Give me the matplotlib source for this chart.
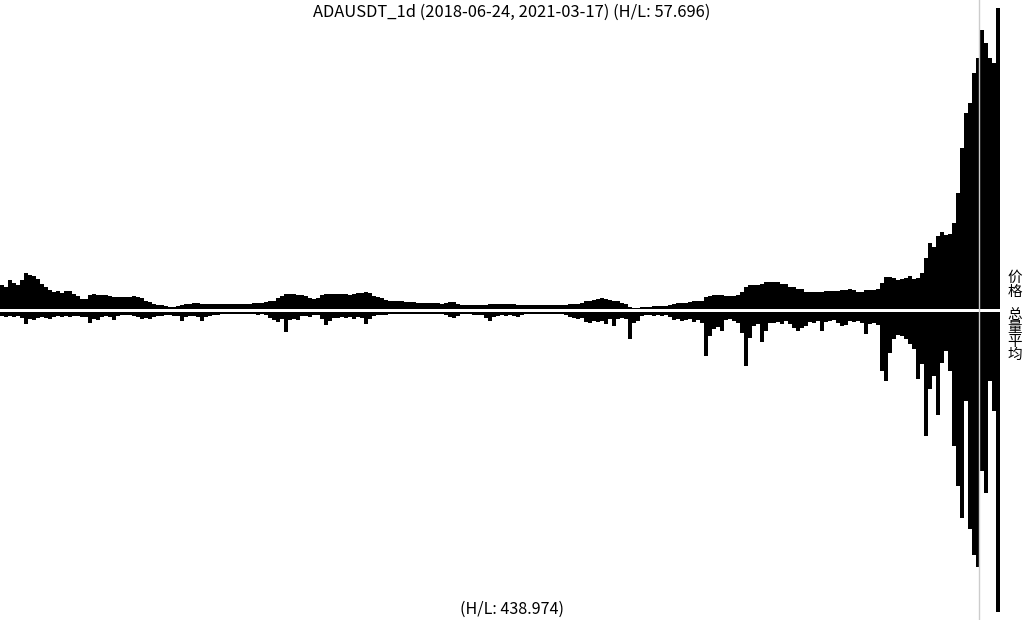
import numpy as np
import pandas as pd
import matplotlib
matplotlib.use("Agg")
import matplotlib.pyplot as plt
import matplotlib.dates as mdates
import matplotlib.transforms as mtransforms

start_date = "2018-06-24"
step_days = 4
marker_date = "2021-02-27"

price = [
    23, 21, 28, 25, 23, 28, 35, 33, 32, 29, 24, 21, 18, 16, 17, 15, 17, 17, 14, 12,
    9, 9, 13, 14, 13, 13.5, 13, 12, 11.5, 11.5, 11, 11, 11.5, 12, 11, 10, 7, 6, 4.5, 3.5,
    3.5, 2.5, 1.5, 1.5, 2, 3.5, 4.5, 4.5, 5, 5.3, 4.5, 4, 4, 4, 4, 4, 4, 4, 4, 4.3,
    4.7, 4.7, 4.7, 5, 5.7, 5.7, 6, 7, 7.5, 10, 12, 14, 14, 14, 13.5, 13, 12, 10, 9, 10,
    13, 14, 14.5, 14.5, 14, 14, 14, 13.5, 14.5, 15, 15, 16, 15.5, 12, 11, 10, 8, 7.5, 7, 7,
    7, 6.5, 6.5, 6, 5.5, 5.3, 5.3, 5.3, 5.3, 5.3, 4.7, 5, 6, 6.3, 4, 3.3, 3.3, 3.3, 3.3, 3.3,
    3.3, 3.5, 4.5, 4.7, 4.7, 4.7, 4.7, 4.7, 4.5, 3.5, 3, 3, 3, 3, 3, 3, 3, 3, 3, 3,
    3.3, 3.7, 4.3, 4.7, 4.7, 5.5, 7.3, 7.5, 8, 9, 10, 9, 8.5, 7.5, 7, 5.5, 4, 1, 0.7, 0.8,
    1.3, 1.3, 1.7, 2, 2, 2, 2, 3, 4.5, 5.7, 5.7, 5.7, 6.3, 7, 7, 7.5, 11, 12.5, 13.7, 13.7,
    13, 12.3, 12.3, 12.3, 13, 16, 21, 23, 23, 23, 24.5, 26, 26, 26.5, 26, 24.5, 24, 21.5, 21, 19.5,
    19, 16.5, 16, 16, 16, 16, 17.5, 17, 17, 17.5, 18, 18.5, 19, 18.5, 16, 16.5, 18, 18, 18, 19,
    25, 31, 31, 30, 28, 29, 30, 32, 29, 30, 35, 50, 65, 61, 72, 76, 73, 74, 85, 115,
    160, 195, 205, 235, 250, 278, 265, 250, 245, 300,
]

volume = [
    5, 6, 5, 6, 5, 7, 12.7, 8, 9, 7, 6, 7, 8, 6, 5, 6, 5, 6, 5, 5,
    6, 6, 11.7, 8, 9, 6, 5, 6, 8.5, 5, 4, 4, 4, 5, 6, 8, 7, 8, 6, 5,
    5, 4, 4, 5, 5, 10, 6, 5, 5, 6, 10, 6, 5, 4, 4, 3, 2.5, 3, 2.5, 3,
    2.5, 3, 2.5, 3, 3.5, 3, 4, 7, 9, 11, 8, 21, 9, 8, 9, 5, 5, 6, 4, 4,
    8, 14, 10, 7, 7, 6, 7, 6, 8, 6, 7, 13, 8, 5, 4, 4, 4, 3, 3, 3,
    2.5, 3, 2.5, 3, 3, 2.5, 3, 2.5, 3, 3, 3, 4, 6, 7, 5, 3, 3, 3, 4, 4,
    4, 7, 10, 6, 5, 4, 5, 4, 5, 6, 4, 3, 2.5, 2.5, 3, 2.5, 2.5, 3, 2.5, 3,
    3, 4, 6, 7, 8, 7, 11, 12, 10, 11, 10, 13, 8, 15, 8, 7, 8, 28, 12, 10,
    5, 4, 4, 5, 4, 5, 4, 6, 9, 8, 10, 9, 8, 11, 9, 12, 45, 25, 18, 16,
    20, 9, 8, 10, 12, 22, 55, 27, 15, 13, 31, 20, 12, 12, 11, 13, 10, 13, 17, 20,
    17, 15, 11, 12, 10, 20, 11, 10, 9, 12, 15, 14, 10, 11, 10, 12, 23, 13, 12, 14,
    60, 70, 42, 28, 24, 25, 28, 33, 38, 68, 53, 125, 78, 65, 104, 52, 40, 60, 135, 175,
    208, 90, 219, 245, 257, 160, 182, 70, 100, 302,
]

title = "ADAUSDT_1d (2018-06-24, 2021-03-17) (H/L: 57.696)"
volume_note = "(H/L: 438.974)"
price_label = "价格"
volume_label = "总量平均"

dates = pd.date_range(start_date, periods=len(price), freq=f"{step_days}D")
width = pd.Timedelta(days=step_days)
x_end = dates[-1] + width

W, H = 1024, 620
fig = plt.figure(figsize=(W / 100, H / 100), dpi=100)

# price panel: top half, bars grow up from the middle
ax_p = fig.add_axes([0, (H - 308.5) / H, 1000 / W, 300.5 / H])
ax_p.bar(dates, price, width=width, align="edge", color="black", linewidth=0)
ax_p.set_xlim(dates[0], x_end)
ax_p.set_ylim(0, max(price))
ax_p.axis("off")

# volume panel: bottom half, bars hang down
ax_v = fig.add_axes([0, 8 / H, 1000 / W, 300.5 / H])
ax_v.bar(dates, volume, width=width, align="edge", color="black", linewidth=0)
ax_v.set_xlim(dates[0], x_end)
ax_v.set_ylim(max(volume), 0)
ax_v.axis("off")

# thin grey marker across the whole figure
trans = mtransforms.blended_transform_factory(ax_p.transData, fig.transFigure)
mx = mdates.date2num(pd.Timestamp(marker_date))
fig.add_artist(plt.Line2D([mx, mx], [0, 1], transform=trans, color="#cccccc", lw=1, zorder=5))

fam = ["Noto Sans CJK SC", "DejaVu Sans"]
fig.text(0.5, 1 - 12 / H, title, ha="center", va="center", fontsize=11.9, family=fam)
fig.text(0.5, 1 - 609 / H, volume_note, ha="center", va="center", fontsize=11.6, family=fam)
fig.text(1015 / W, 1 - 285 / H, "\n".join(price_label), ha="center", va="center",
         fontsize=10.5, family=fam, linespacing=0.95)
fig.text(1015 / W, 1 - 335 / H, "\n".join(volume_label), ha="center", va="center",
         fontsize=10.5, family=fam, linespacing=0.95)

fig.savefig("out.png", dpi=100)
